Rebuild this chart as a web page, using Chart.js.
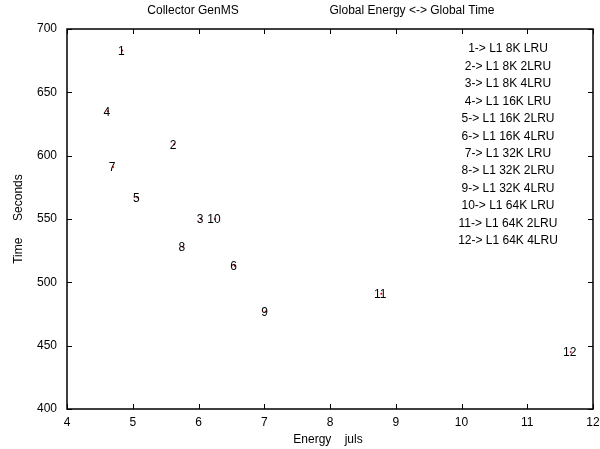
<!DOCTYPE html>
<html>
<head>
<meta charset="utf-8">
<script src="https://cdn.jsdelivr.net/npm/chart.js@4/dist/chart.umd.min.js"></script>
<style>
  html, body { margin: 0; padding: 0; background: #fff; }
  #wrap { width: 600px; height: 449px; }
</style>
</head>
<body>
<div id="wrap"><canvas id="chart"></canvas></div>
<script>
// configuration ids (drawn as labels on the points)
const configIds = ['1', '2', '3', '4', '5', '6', '7', '8', '9', '10', '11', '12'];
// energy (juls) and time (seconds) per configuration
const energy = [4.84, 5.63, 6.04, 4.62, 5.07, 6.55, 4.70, 5.76, 7.02, 6.25, 8.78, 11.66];
const timeSec = [683, 609, 550, 635, 567, 513, 591, 528, 477, 550, 491, 445];
// key text shown in the upper right
const keyLines = [
    '1-> L1 8K LRU', '2-> L1 8K 2LRU', '3-> L1 8K 4LRU',
    '4-> L1 16K LRU', '5-> L1 16K 2LRU', '6-> L1 16K 4LRU',
    '7-> L1 32K LRU', '8-> L1 32K 2LRU', '9-> L1 32K 4LRU',
    '10-> L1 64K LRU', '11-> L1 64K 2LRU', '12-> L1 64K 4LRU'
];
const xTicks = [4, 5, 6, 7, 8, 9, 10, 11, 12];
const yTicks = [400, 450, 500, 550, 600, 650, 700];

const FONT = '"Liberation Sans", Arial, Helvetica, sans-serif';

const points = energy.map((e, i) => ({ x: e, y: timeSec[i] }));

// gnuplot style frame with inward ticks on all four sides
const framePlugin = {
    id: 'frame',
    afterDatasetsDraw(chart) {
        const { ctx, chartArea: a, scales } = chart;
        ctx.save();
        ctx.strokeStyle = '#000';
        ctx.lineWidth = 1;
        ctx.beginPath();
        xTicks.forEach(v => {
            const px = Math.round(scales.x.getPixelForValue(v)) + 0.5;
            ctx.moveTo(px, a.bottom); ctx.lineTo(px, a.bottom - 5);
            ctx.moveTo(px, a.top); ctx.lineTo(px, a.top + 5);
        });
        yTicks.forEach(v => {
            const py = Math.round(scales.y.getPixelForValue(v)) + 0.5;
            ctx.moveTo(a.left, py); ctx.lineTo(a.left + 5, py);
            ctx.moveTo(a.right, py); ctx.lineTo(a.right - 5, py);
        });
        ctx.stroke();
        ctx.lineWidth = 1.5;
        ctx.strokeRect(a.left, a.top, a.right - a.left, a.bottom - a.top);

        // point labels
        ctx.fillStyle = '#000';
        ctx.font = '12px ' + FONT;
        ctx.textAlign = 'center';
        ctx.textBaseline = 'middle';
        points.forEach((p, i) => {
            ctx.fillText(configIds[i], scales.x.getPixelForValue(p.x) - 1, scales.y.getPixelForValue(p.y) + 1);
        });

        // key
        keyLines.forEach((t, i) => {
            ctx.fillText(t, a.right - 85, a.top + 20 + i * 17.45);
        });

        // titles
        ctx.fillText('Collector GenMS', 193, 11);
        ctx.fillText('Global Energy <-> Global Time', 412, 11);
        ctx.fillText('Energy    juls', 328, 440);
        ctx.translate(18.5, 219);
        ctx.rotate(-Math.PI / 2);
        ctx.fillText('Time     Seconds', 0, 0);
        ctx.restore();
    }
};

new Chart(document.getElementById('chart'), {
    type: 'scatter',
    data: {
        datasets: [{
            data: points,
            pointRadius: 1,
            pointBorderWidth: 0,
            pointBackgroundColor: '#e00000',
            showLine: false
        }]
    },
    options: {
        responsive: true,
        maintainAspectRatio: false,
        animation: false,
        layout: { padding: { top: 29, right: 7, left: 0, bottom: 0 } },
        plugins: {
            legend: { display: false },
            tooltip: { enabled: false }
        },
        scales: {
            x: {
                type: 'linear',
                min: 4,
                max: 12,
                afterFit(scale) {
                    scale.height = 40;
                    scale.paddingLeft = 0;
                    scale.paddingRight = 0;
                },
                afterBuildTicks(scale) { scale.ticks = xTicks.map(v => ({ value: v })); },
                grid: { display: false, drawTicks: false },
                border: { display: false },
                ticks: { color: '#000', padding: 6, font: { size: 12, family: FONT } }
            },
            y: {
                type: 'linear',
                min: 400,
                max: 700,
                afterFit(scale) {
                    scale.width = 67;
                    scale.paddingTop = 0;
                    scale.paddingBottom = 0;
                },
                afterBuildTicks(scale) { scale.ticks = yTicks.map(v => ({ value: v })); },
                grid: { display: false, drawTicks: false },
                border: { display: false },
                ticks: { color: '#000', padding: 10, font: { size: 12, family: FONT } }
            }
        }
    },
    plugins: [framePlugin]
});
</script>
</body>
</html>
